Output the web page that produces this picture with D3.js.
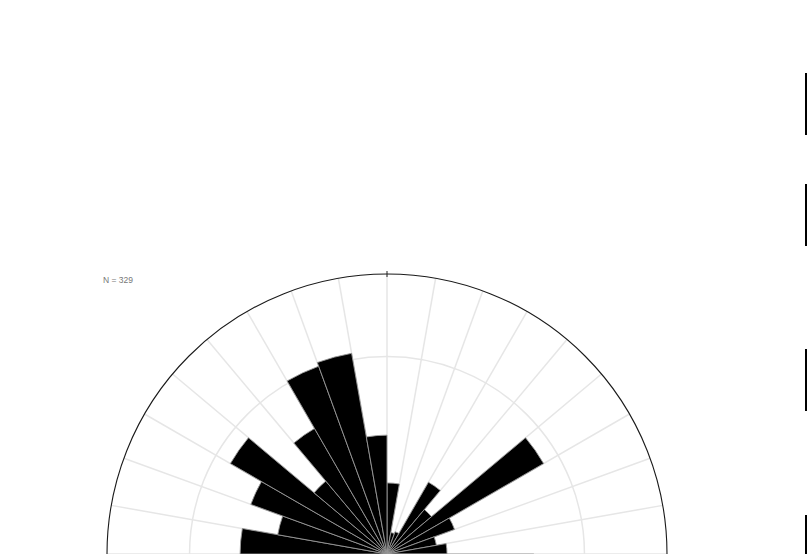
<!DOCTYPE html>
<html>
<head>
<meta charset="utf-8">
<script src="https://cdn.jsdelivr.net/npm/d3@7"></script>
<style>
  html, body { margin: 0; padding: 0; background: #fff; overflow: hidden; }
  svg { display: block; }
</style>
</head>
<body>
<svg id="chart" width="807" height="554"></svg>
<script>
// ---- data (axial orientation data, 10° bins, percent of measurements) ----
const sampleSize = 329;
const binStarts = [0, 10, 20, 30, 40, 50, 60, 70, 80, 90, 100, 110, 120, 130, 140, 150, 160, 170];
const binPercent = [1.80, 0.55, 0.60, 2.10, 1.47, 4.58, 1.82, 1.27, 1.52,
                    3.72, 2.81, 3.67, 4.58, 2.41, 3.67, 5.06, 5.16, 3.01];
const ringTicks = [5];
const radialMax = 7.09;

// ---- layout ----
const W = 807, H = 554;
const cx = 387, cy = 554, R = 280;
const binWidth = 10;

const svg = d3.select("#chart");
const g = svg.append("g").attr("transform", `translate(${cx},${cy})`);

const r = d3.scaleLinear().domain([0, radialMax]).range([0, R]);
const toRad = d => d * Math.PI / 180;

// spokes every 10 degrees
const spokeAngles = d3.range(0, 360, binWidth);
g.append("g").selectAll("line").data(spokeAngles).join("line")
  .attr("x1", 0).attr("y1", 0)
  .attr("x2", d => r(radialMax) * Math.sin(toRad(d)))
  .attr("y2", d => -r(radialMax) * Math.cos(toRad(d)))
  .attr("stroke", "#e6e6e6").attr("stroke-width", 1.5);

// rings
g.append("g").selectAll("circle").data(ringTicks).join("circle")
  .attr("r", d => r(d)).attr("fill", "none")
  .attr("stroke", "#e6e6e6").attr("stroke-width", 1.5);

// bars (axial: each bin drawn at θ and θ+180)
const bars = [];
binStarts.forEach((s, i) => {
  bars.push({ start: s, value: binPercent[i] });
  bars.push({ start: s + 180, value: binPercent[i] });
});
const arc = d3.arc()
  .innerRadius(0)
  .outerRadius(d => r(d.value))
  .startAngle(d => toRad(d.start))
  .endAngle(d => toRad(d.start + binWidth));
g.append("g").selectAll("path").data(bars).join("path")
  .attr("d", arc)
  .attr("fill", "#000")
  .attr("stroke", "#999").attr("stroke-width", 0.9);

// outer circle
g.append("circle").attr("r", r(radialMax)).attr("fill", "none")
  .attr("stroke", "#1a1a1a").attr("stroke-width", 1.1);

// top tick
g.append("g").selectAll("line").data([0]).join("line")
  .attr("x1", d => (R - 3) * Math.sin(toRad(d)))
  .attr("y1", d => -(R - 3) * Math.cos(toRad(d)))
  .attr("x2", d => (R + 3) * Math.sin(toRad(d)))
  .attr("y2", d => -(R + 3) * Math.cos(toRad(d)))
  .attr("stroke", "#222").attr("stroke-width", 1);

// ring labels
ringTicks.forEach(t => {
  g.append("text").attr("x", r(t) + 1).attr("y", 6)
    .attr("text-anchor", "middle")
    .attr("font-family", "Liberation Sans, Arial, sans-serif")
    .attr("font-size", 8).attr("fill", "#333").text(t);
  g.append("text").attr("x", -r(t) - 6).attr("y", 6)
    .attr("text-anchor", "middle")
    .attr("font-family", "Liberation Sans, Arial, sans-serif")
    .attr("font-size", 8).attr("fill", "#333").text(t);
});

// N label
svg.append("text").attr("x", 103).attr("y", 283)
  .attr("font-family", "Liberation Sans, Arial, sans-serif")
  .attr("font-size", 8.5).attr("fill", "#777")
  .text(`N = ${sampleSize}`);

// edges of neighbouring panels at right
const edgeSegments = [[73, 135], [184, 246], [349, 411], [515, 560]];
svg.append("g").selectAll("line").data(edgeSegments).join("line")
  .attr("x1", 806).attr("x2", 806)
  .attr("y1", d => d[0]).attr("y2", d => d[1])
  .attr("stroke", "#000").attr("stroke-width", 2);
</script>
</body>
</html>
